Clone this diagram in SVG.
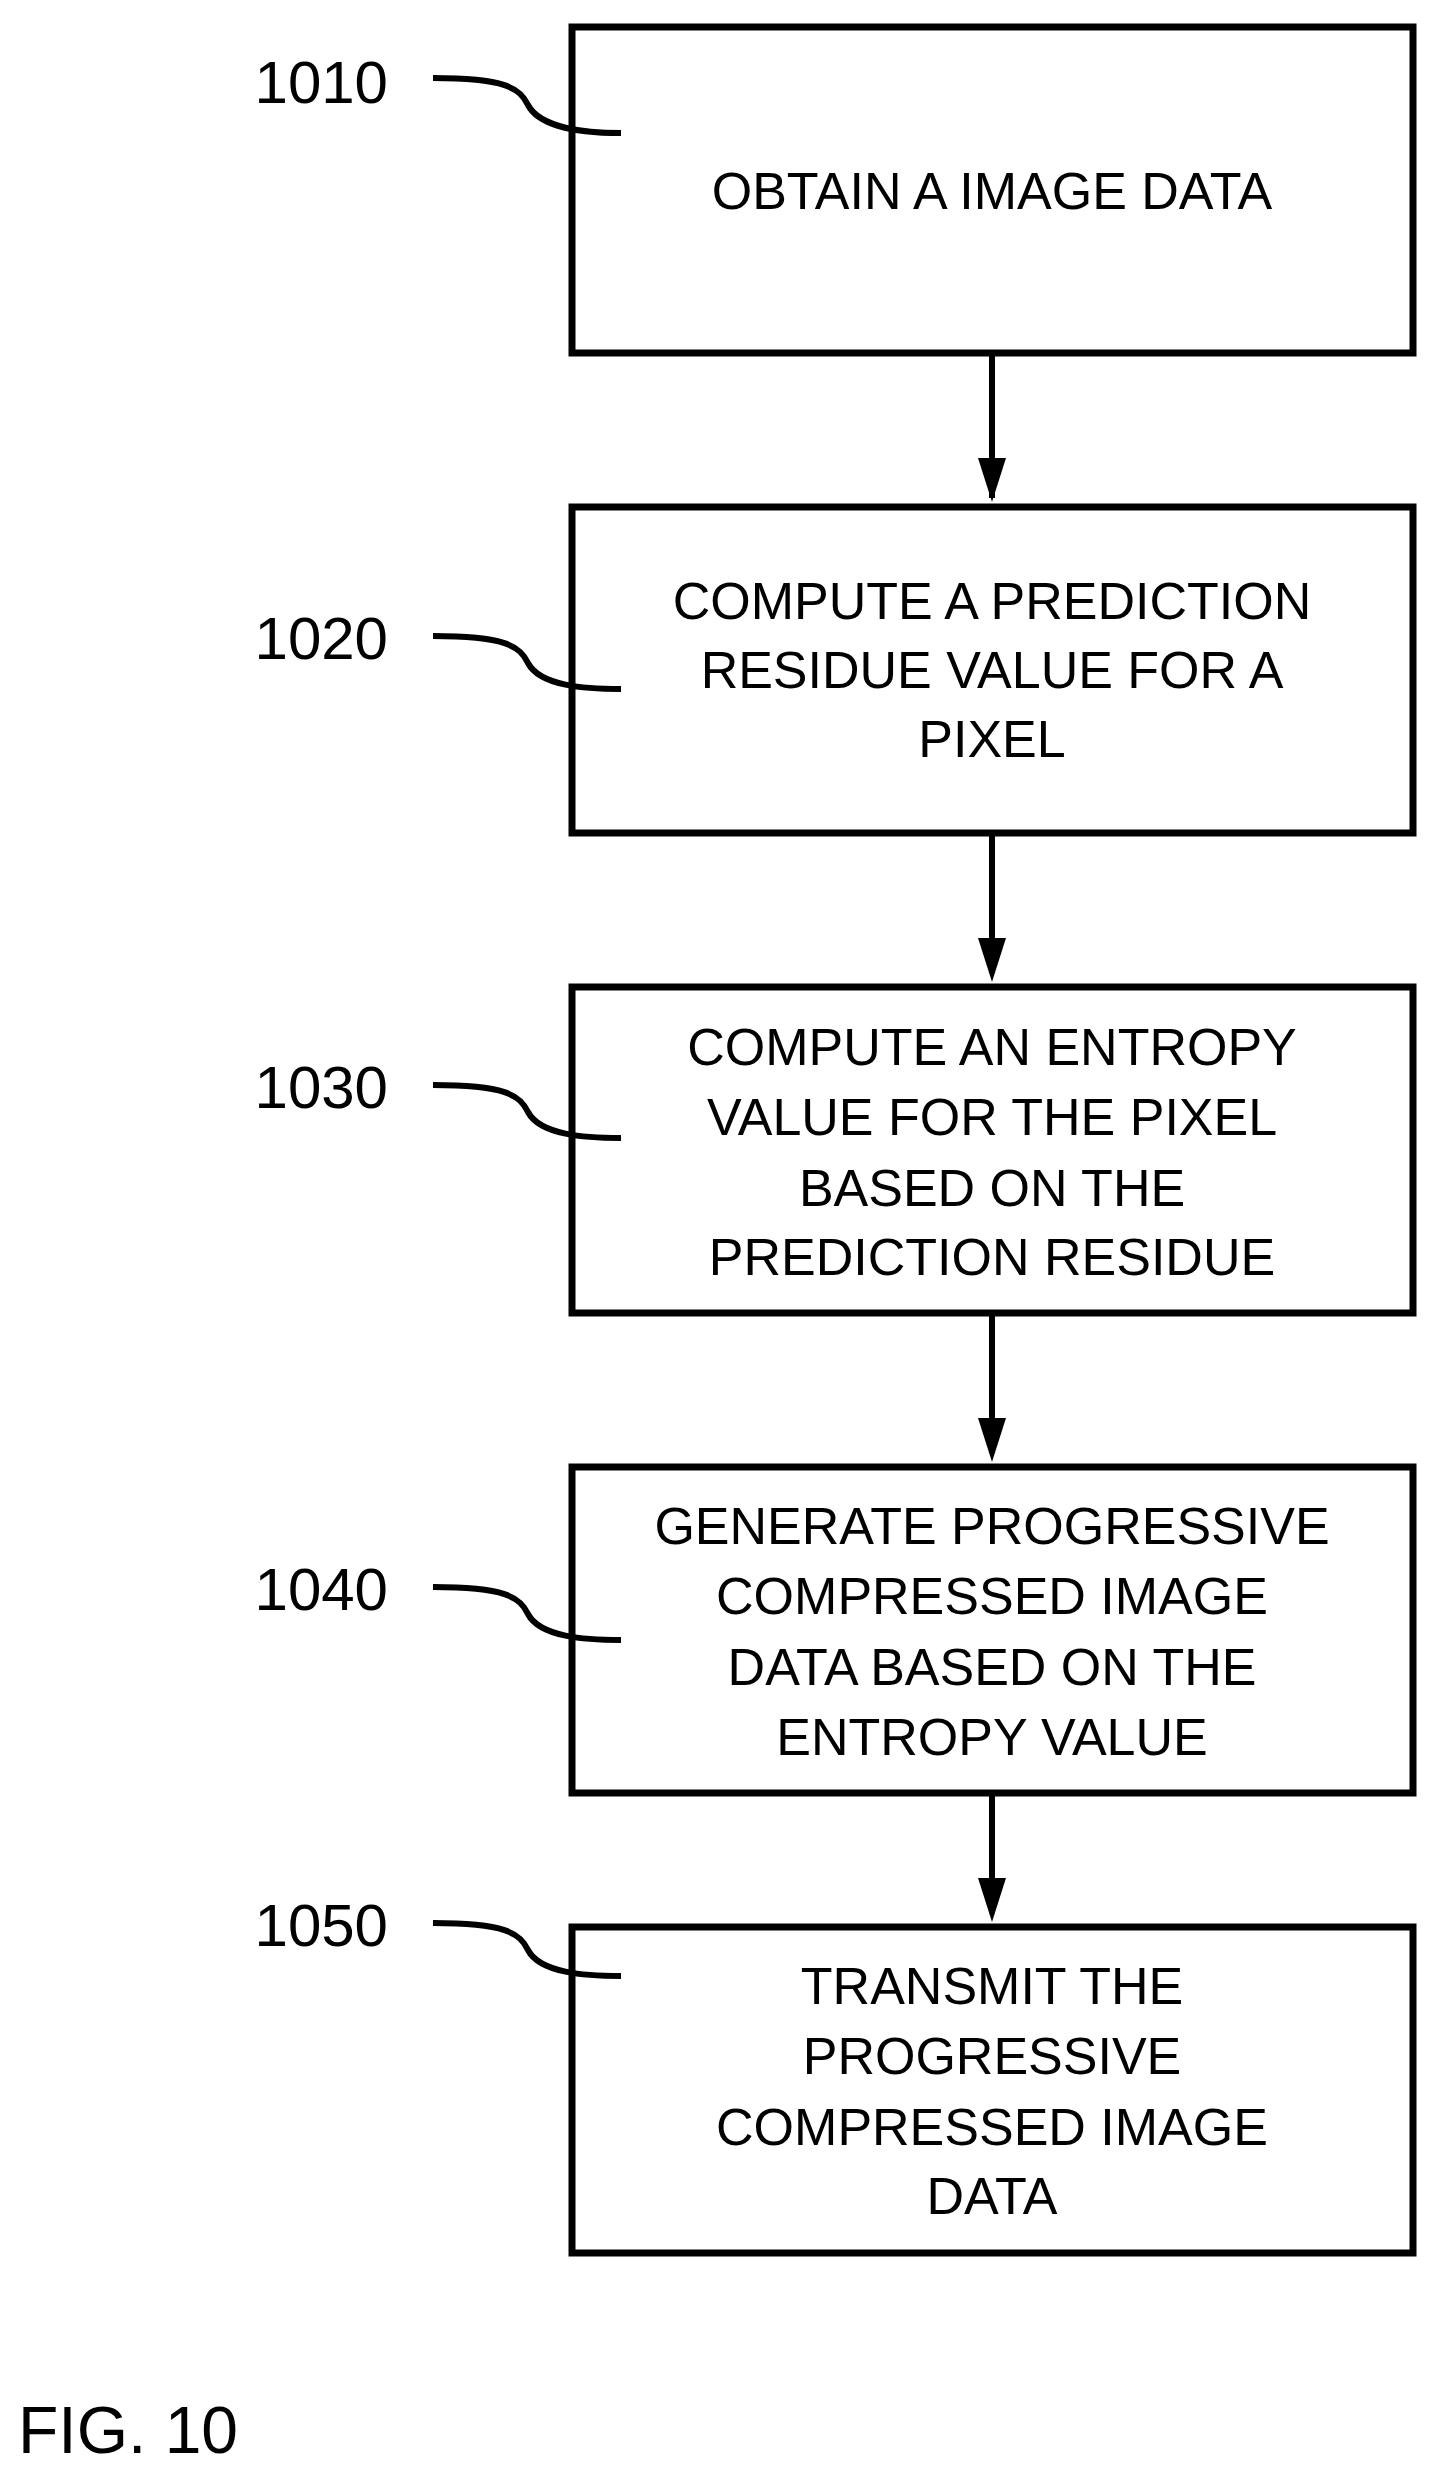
<svg xmlns="http://www.w3.org/2000/svg" width="1436" height="2478" viewBox="0 0 1436 2478">
<style>
.box{fill:#fff;stroke:#000;stroke-width:7}
.t{font-family:"Liberation Sans",Arial,sans-serif;font-size:52px;text-anchor:middle;fill:#000}
.lbl{font-family:"Liberation Sans",Arial,sans-serif;font-size:60px;text-anchor:end;fill:#000}
.lead{fill:none;stroke:#000;stroke-width:6}
.c{stroke:#000;stroke-width:6;fill:none}
</style>
<defs><marker id="ah" markerUnits="userSpaceOnUse" markerWidth="30" markerHeight="44" refX="15" refY="42" orient="auto-start-reverse" viewBox="0 0 30 44"><path d="M0 0 L30 0 L15 44 Z" fill="#000" transform="rotate(0)"/></marker></defs>
<rect width="1436" height="2478" fill="#fff"/>
<g id="connectors">
<line class="c" x1="992" y1="356" x2="992" y2="498" marker-end="url(#arr)"/>
<path d="M992 356 V460" class="c"/><path d="M978 458 L1006 458 L992 502 Z"/>
<path d="M992 836 V940" class="c"/><path d="M978 938 L1006 938 L992 982 Z"/>
<path d="M992 1316 V1420" class="c"/><path d="M978 1418 L1006 1418 L992 1462 Z"/>
<path d="M992 1796 V1880" class="c"/><path d="M978 1878 L1006 1878 L992 1922 Z"/>
</g>
<g id="n1010"><rect class="box" x="572" y="27" width="841" height="326"/><text class="t" x="992" y="209">OBTAIN A IMAGE DATA</text>
<text class="lbl" x="388" y="103">1010</text><path class="lead" d="M433 78 C505 78 520 88 528 105 C540 128 585 133 621 133"/></g>
<g id="n1020"><rect class="box" x="572" y="507" width="841" height="326"/><text class="t" x="992" y="619">COMPUTE A PREDICTION</text><text class="t" x="992" y="688">RESIDUE VALUE FOR A</text><text class="t" x="992" y="757">PIXEL</text>
<text class="lbl" x="388" y="659">1020</text><path class="lead" d="M433 636 C505 636 520 646 528 663 C540 686 585 689 621 689"/></g>
<g id="n1030"><rect class="box" x="572" y="987" width="841" height="326"/><text class="t" x="992" y="1065">COMPUTE AN ENTROPY</text><text class="t" x="992" y="1135">VALUE FOR THE PIXEL</text><text class="t" x="992" y="1206">BASED ON THE</text><text class="t" x="992" y="1275">PREDICTION RESIDUE</text>
<text class="lbl" x="388" y="1108">1030</text><path class="lead" d="M433 1085 C505 1085 520 1095 528 1112 C540 1135 585 1138 621 1138"/></g>
<g id="n1040"><rect class="box" x="572" y="1467" width="841" height="326"/><text class="t" x="992" y="1544">GENERATE PROGRESSIVE</text><text class="t" x="992" y="1614">COMPRESSED IMAGE</text><text class="t" x="992" y="1685">DATA BASED ON THE</text><text class="t" x="992" y="1755">ENTROPY VALUE</text>
<text class="lbl" x="388" y="1610">1040</text><path class="lead" d="M433 1587 C505 1587 520 1597 528 1614 C540 1637 585 1640 621 1640"/></g>
<g id="n1050"><rect class="box" x="572" y="1927" width="841" height="326"/><text class="t" x="992" y="2004">TRANSMIT THE</text><text class="t" x="992" y="2074">PROGRESSIVE</text><text class="t" x="992" y="2145">COMPRESSED IMAGE</text><text class="t" x="992" y="2214">DATA</text>
<text class="lbl" x="388" y="1946">1050</text><path class="lead" d="M433 1923 C505 1923 520 1933 528 1950 C540 1973 585 1976 621 1976"/></g>
<text x="18" y="2453" style="font-family:'Liberation Sans',Arial,sans-serif;font-size:66px">FIG. 10</text>
</svg>
